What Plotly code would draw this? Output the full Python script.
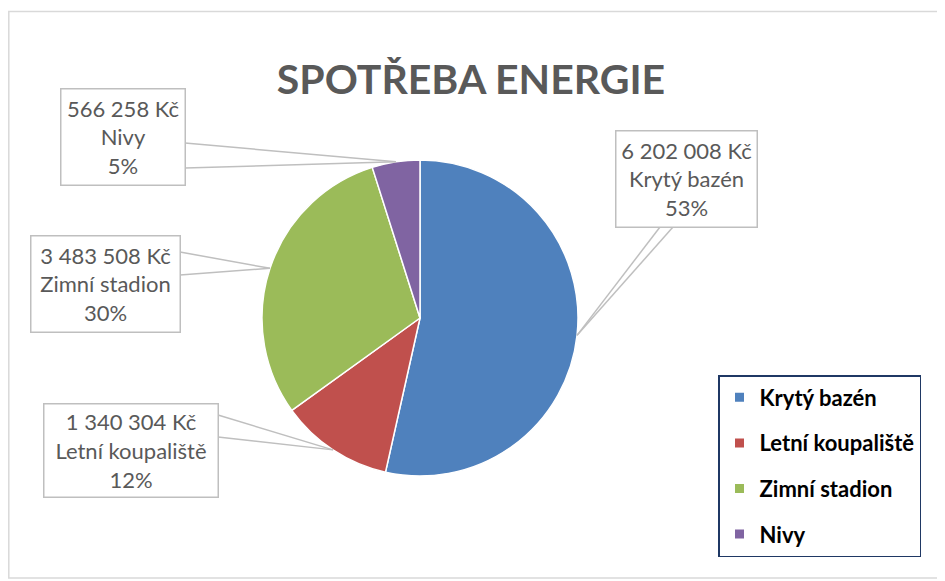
import math
import plotly.graph_objects as go

categories = ["Krytý bazén", "Letní koupaliště", "Zimní stadion", "Nivy"]
values_czk = [6202008, 1340304, 3483508, 566258]
colors = ["#4F81BD", "#C0504D", "#9BBB59", "#8064A2"]
title_text = "SPOTŘEBA ENERGIE"

W, H = 945, 581
OFF = 8  # page body margin in the browser


def px(x):
    return (x - OFF) / W


def py(y):
    return 1 - (y - OFF) / H


# largest-remainder percentages (as Excel shows them)
total = sum(values_czk)
raw = [v / total * 100 for v in values_czk]
pct = [math.floor(r) for r in raw]
rem = sorted(range(len(raw)), key=lambda i: raw[i] - pct[i], reverse=True)
for i in rem[: 100 - sum(pct)]:
    pct[i] += 1


def fmt(v):
    return f"{v:,}".replace(",", " ") + " Kč"


# pie geometry (page pixels)
cx, cy, r = 420, 318, 158

fig = go.Figure()
fig.add_trace(go.Pie(
    labels=categories,
    values=values_czk,
    sort=False,
    direction="clockwise",
    rotation=0,
    marker=dict(colors=colors, line=dict(width=1.5, color="white")),
    textinfo="none",
    hoverinfo="label+value+percent",
    showlegend=False,
    domain=dict(x=[px(cx - r), px(cx + r)], y=[py(cy + r), py(cy - r)]),
))

# legend entries (one per category, grouped so gaps can be set)
for cat, col in zip(categories, colors):
    fig.add_trace(go.Scatter(
        x=[None], y=[None], mode="markers", name=cat, legendgroup=cat,
        marker=dict(symbol="square", size=9, color=col),
        hoverinfo="skip",
    ))

# label boxes: center x, center y, width, height, pointer base points (page px)
boxes = {
    "Krytý bazén": (686, 178.5, 142, 97, [(660, 227), (673, 227)]),
    "Letní koupaliště": (130.5, 450, 175, 94, [(218, 415), (218, 437)]),
    "Zimní stadion": (105, 283.5, 150, 97, [(180, 252), (180, 275)]),
    "Nivy": (122.5, 136.5, 125, 97, [(185, 143), (185, 168)]),
}

annotations = []
shapes = []
cum = 0
for cat, v, p in zip(categories, values_czk, pct):
    mid = (cum + v / 2) / total * 2 * math.pi
    cum += v
    ex = cx + r * math.sin(mid)
    ey = cy - r * math.cos(mid)
    bx, by, bw, bh, base = boxes[cat]
    for (sx, sy) in base:
        shapes.append(dict(type="line", xref="paper", yref="paper",
                           x0=px(sx), y0=py(sy), x1=px(ex), y1=py(ey),
                           line=dict(color="#BFBFBF", width=1.5)))
    annotations.append(dict(
        x=px(bx), y=py(by), xref="paper", yref="paper",
        xanchor="center", yanchor="middle", showarrow=False,
        text=f"{fmt(v)}<br>{cat}<br>{p}%",
        font=dict(family="Lato", size=22, color="#595959"),
        align="center", width=bw - 4, height=bh - 4, borderpad=1,
        bordercolor="#BFBFBF", borderwidth=1.5, bgcolor="white",
    ))

# outer chart border
shapes.append(dict(type="rect", xref="paper", yref="paper",
                   x0=px(8.8), y0=py(578), x1=px(960), y1=py(11.5),
                   line=dict(color="#D9D9D9", width=1.5)))

fig.update_layout(
    width=W, height=H,
    margin=dict(l=0, r=0, t=0, b=0),
    paper_bgcolor="white",
    plot_bgcolor="white",
    xaxis=dict(visible=False),
    yaxis=dict(visible=False),
    title=dict(text=f"<b>{title_text}</b>", x=px(471), xanchor="center",
               y=py(80), yanchor="middle",
               font=dict(family="Lato", size=41, color="#595959")),
    showlegend=True,
    legend=dict(x=px(718), y=py(375), xanchor="left", yanchor="top",
                bordercolor="#1F3864", borderwidth=1.5, bgcolor="white",
                font=dict(family="Lato", size=22, color="black", weight="bold"),
                tracegroupgap=14, itemclick=False, itemdoubleclick=False),
    shapes=shapes,
    annotations=annotations,
)

fig.write_html("out.html")
